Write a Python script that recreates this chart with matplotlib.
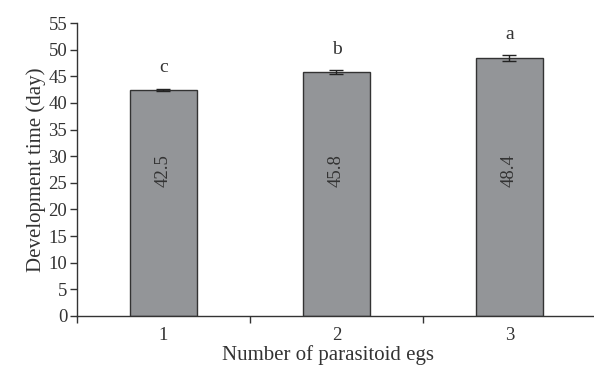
import matplotlib

matplotlib.use("Agg")
import matplotlib.pyplot as plt  # noqa: E402
import numpy as np  # noqa: E402

categories = ["1", "2", "3"]
means = [42.5, 45.8, 48.4]
errors = [0.2, 0.3, 0.6]
letters = ["c", "b", "a"]
value_labels = ["42.5", "45.8", "48.4"]

TXT = "#333333"
plt.rcParams["font.family"] = ["Liberation Serif", "DejaVu Serif"]

fig = plt.figure(figsize=(5.94, 3.67), dpi=100)
ax = fig.add_axes([77 / 594, 51 / 367, 519 / 594, 293 / 367])

x = np.arange(len(categories))
ax.bar(x, means, width=0.39, color="#939598", edgecolor="#333333", linewidth=1.0, zorder=2)
ax.errorbar(x, means, yerr=errors, fmt="none", ecolor="#222222", elinewidth=1.0,
            capsize=5, capthick=1.0, zorder=3)

for xi, m, e, lt, vl in zip(x, means, errors, letters, value_labels):
    ax.text(xi, m + e + 2.3, lt, ha="center", va="bottom", fontsize=14, color=TXT)
    ax.text(xi, 27.3, vl, ha="center", va="center", rotation=90, fontsize=13.5, color=TXT)

ax.set_xlim(-0.5, len(categories) - 0.5)
ax.set_ylim(0, 55)
ax.set_yticks(np.arange(0, 56, 5))
ax.set_xticks(x)
ax.set_xticklabels(categories)
ax.set_xticks(np.arange(-0.5, len(categories), 1.0), minor=True)

for s in ("top", "right"):
    ax.spines[s].set_visible(False)
for s in ("left", "bottom"):
    ax.spines[s].set_color("#333333")
    ax.spines[s].set_linewidth(1.0)

ax.tick_params(axis="y", direction="out", length=5, width=1.0, color="#333333",
               labelsize=13.5, labelcolor=TXT, pad=2)
ax.tick_params(axis="x", which="major", length=0, labelsize=13.5, labelcolor=TXT, pad=8)
ax.tick_params(axis="x", which="minor", direction="out", length=5, width=1.0, color="#333333")

ax.set_ylabel("Development time (day)", fontsize=15, color=TXT, labelpad=2)
ax.set_xlabel("Number of parasitoid egs", fontsize=15, color=TXT)
ax.xaxis.set_label_coords(0.484, -0.1)

fig.savefig("out.png", dpi=100)
plt.close(fig)
